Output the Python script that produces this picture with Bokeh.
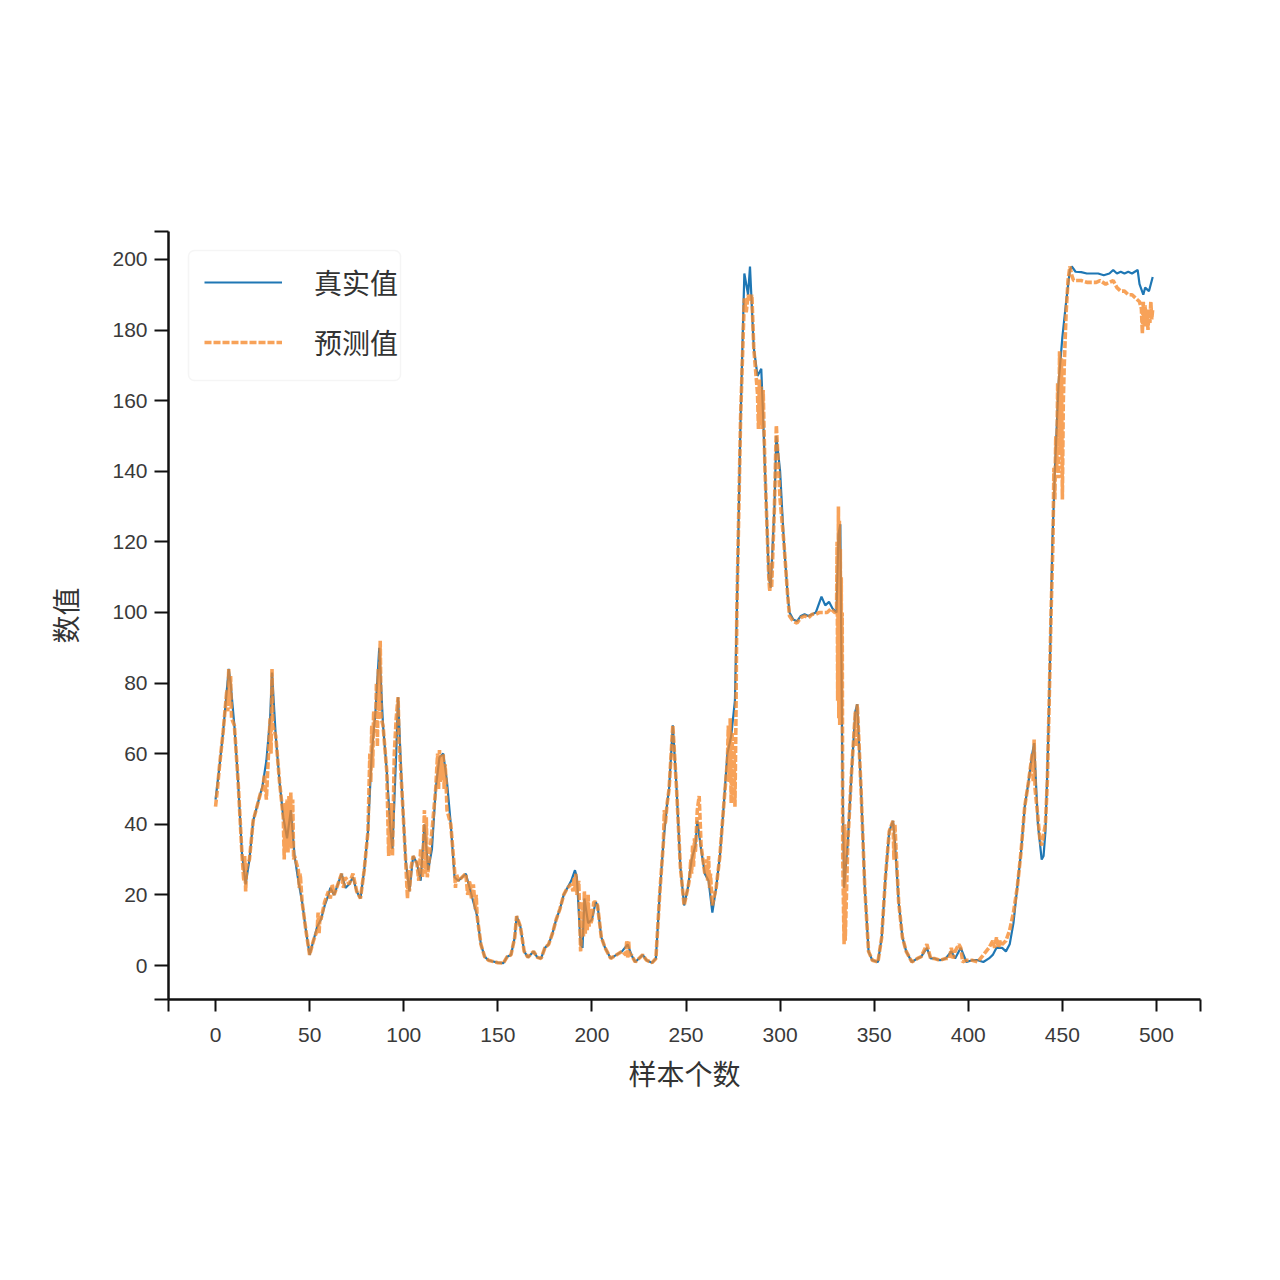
from bokeh.plotting import figure
from bokeh.embed import file_html
from bokeh.resources import INLINE
from bokeh.models import Range1d, FixedTicker, Legend, LegendItem, BoxAnnotation, Label

x_ticks = [-25, 0, 50, 100, 150, 200, 250, 300, 350, 400, 450, 500, 523.4]
y_ticks = [-9.63, 0, 20, 40, 60, 80, 100, 120, 140, 160, 180, 200, 207.9]
x_title = "样本个数"
y_title = "数值"
names = ["真实值", "预测值"]

true_x = [0,2,4,6,7,8,10,12,14,16,18,20,22,24,25,27,29,30,32,34,36,38,40,42,44,46,48,50,52,54,
          56,58,60,61,63,65,67,69,71,73,75,77,79,81,83,85,87,89,91,93,94,96,97,99,101,103,105,107,109,111,
          113,115,117,119,121,123,125,127,129,131,133,135,137,139,141,143,145,147,150,153,155,157,159,160,162,164,166,169,171,173,
          175,177,179,181,183,185,187,189,191,192,194,195,196,198,200,202,203,205,207,210,213,216,219,221,223,225,227,229,232,234,
          236,238,240,241,243,245,247,249,251,253,255,256,258,260,262,264,266,268,270,272,274,276,277,279,281,283,284,286,288,290,
          291,292,294,295,297,298,300,302,304,305,307,309,311,313,315,317,319,321,322,324,326,328,330,331,332,333,334,336,338,340,
          341,343,345,347,349,352,354,356,358,360,361,363,365,367,370,373,375,378,380,382,385,388,391,393,396,399,402,405,408,411,
          413,415,418,420,422,424,426,428,430,432,434,435,437,439,440,441,442,443,444.7,446,448,450,452,454,455,457,460,463,466,469,472,475,
          477,479,481,483,485,487,490,491,493,494,496,498]
true_y = [47,56,66,78,84,80,68,52,32,23,30,41,45,49,51,58,70,83,65,52,42,36,44,31,24,18,10,3,7,11,
          13,17,20,22,20,23,26,22,23,25,21,19,27,38,60,72,90,68,55,38,33,60,76,50,30,21,31,29,24,40,
          27,33,50,59,60,52,40,25,24,25,26,22,18,14,6,2.5,1.5,1.2,0.8,0.7,2.5,3,8,14,11,4,2.3,4,2.3,2,
          5,6,9,13,16,20,22,24,27,25,6,5,19,12,13,18,17,8,5,2,3,4,6,3,1,2,3,1.5,0.8,2,
          20,35,46,50,68,50,28,17,22,30,34,41,33,26,24,15,22,31,45,60,65,75,100,155,196,190,198,175,167,169,
          155,140,110,107,130,150,140,120,105,100,98,97.5,99,99.5,99,99.5,100,103,104.5,102,103,101,100,122,125,60,22,35,55,72,
          74,50,22,4,1.5,1,8,25,38,41,35,18,8,4,1,2,2.5,5,2,2,1.5,2,4,2,5,1,1.5,1.5,1,2,
          3,5,5,4,6,12,22,32,45,52,60,63,40,30,31,38,55,75,120,140,165,178,188,197,198,196.5,196.4,196,196,196,195.5,196,
          197,196,196.5,196,196.5,196,197,193,190,192,191,195]

pred_x = [0,1,2,4,6,6.5,7,7.5,8,8.5,
          10,12,14,15,15.5,16,16.5,18,20,22,
          24,25,26,27,29,29.5,30,30.5,32,34,
          36,36.5,37,37.5,38,38.5,39,39.5,40,40.5,
          41,41.5,42,44,44.5,45,46,48,50,52,
          54,54.5,55,55.5,56,58,60,61,62,63,
          65,67,68,69,71,73,75,77,79,81,
          82,82.5,83,83.5,84,85,85.5,86,86.5,87,
          87.5,88,89,91,92,92.5,93,93.5,94,95,
          96,97,97.5,99,101,102,102.5,103,104,105,
          107,108,109,110,111,111.5,112,112.5,113,114,
          115,117,118,118.5,119,119.5,120,120.5,121,121.5,
          122,122.5,123,125,127,127.5,128,129,131,133,
          134,135,136,137,138,138.5,139,141,143,145,
          147,150,153,155,157,159,160,162,164,166,
          169,171,173,175,177,179,181,183,185,187,
          189,190,190.5,191,191.5,192,193,194,195,195.5,
          196,196.5,197,197.5,198,198.5,199,199.5,200,201,
          202,203,205,207,210,213,216,218,218.5,219,
          219.5,220,221,223,225,227,229,232,234,236,
          238,238.5,239,240,241,243,245,247,249,251,
          252,252.5,253,253.5,254,254.5,255,256,257,258,
          260,261,261.5,262,262.5,263,264,266,268,270,
          272,272.5,273,273.5,274,274.5,275,275.5,276,276.5,
          277,279,281,282,283,284,285,286,288,288.5,
          289,289.5,290,290.5,291,291.5,292,294,294.5,295,
          295.5,297,298,300,302,304,305,307,309,311,
          313,315,317,319,321,323,325,327,329,330,
          330.3,330.6,331,331.2,331.5,331.7,332,332.2,332.5,332.7,
          333,333.3,334,334.3,334.6,336,338,340,340.5,341,
          343,345,347,349,352,354,356,358,360,360.5,
          361,361.5,363,365,367,370,373,375,378,380,
          382,385,388,390,391,392,393,395,396,397,
          399,402,405,408,411,413,414,415,416,417,
          418,420,422,424,426,428,430,432,434,434.5,
          435,435.5,437,438,439,440,441,442,443,444,
          445,445.5,446,446.5,447,447.5,448,448.5,449,449.5,
          450,450.5,451,452,453,454,455,456,458,460,
          463,466,468,470,473,475,477,479,481,483,
          485,487,489,491,492,492.5,493,493.5,494,494.5,
          495,495.5,496,496.5,497,497.5,498]
pred_y = [45,50,56,66,78,72,84,74,82,70,
          68,52,32,24,31,21,28,30,41,45,
          49,50,54,47,70,60,84,68,65,52,
          42,30,46,33,47,32,48,34,49,33,
          47,30,31,27,22,26,18,10,3,7,
          10,15,9,14,13,18,21,19,23,20,
          23,26,22,25,23,26,21,19,27,38,
          60,52,68,56,72,66,80,62,84,72,
          92,70,68,55,31,42,33,46,31,60,
          70,76,64,50,30,19,27,21,28,31,
          29,24,33,25,44,26,42,25,27,33,
          38,50,60,50,61,52,59,53,60,50,
          57,52,44,40,27,22,26,24,25,26,
          20,24,19,23,16,20,14,6,2.5,1.5,
          1.2,0.8,0.7,2.5,3,8,14,11,4,2.3,
          4,2.3,2,5,6,9,13,16,20,22,
          23,21,25,22,26,20,24,4,18,8,
          21,9,19,10,20,11,16,12,13,18,
          18,17,8,5,2,3,4,3,7,2,
          7,3,3,1,2,3,1.5,0.8,2,20,
          35,44,40,46,50,68,50,28,17,22,
          25,30,26,34,28,36,32,44,48,34,
          26,30,24,31,22,26,17,22,31,45,
          58,68,52,70,46,66,48,62,45,68,
          100,155,189,185,190,188,190,175,162,152,
          166,153,164,152,163,151,140,110,106,114,
          107,130,153,132,120,105,99,97.5,97,98.5,
          99,98.5,99.5,99.5,100,100,100,101,100,100,
          120,75,130,70,126,68,118,70,110,69,
          100,30,6,40,7,35,55,72,62,74,
          50,22,4,1.5,1,8,25,38,41,30,
          40,34,18,8,4,1,2,2.5,6,2,
          2,1.5,2,2,5,2,4,6,5,1,
          1.5,1.5,1,3,5,7,5,8,5,7,
          6,7,10,15,22,32,45,52,60,52,
          64,50,42,36,34,37,40,52,75,100,
          120,141,132,150,140,165,138,174,145,172,
          132,160,170,185,194,198,195.5,194,194,194,
          193.5,193.5,193.5,194,193,193.5,194,192,191,191,
          190,190,189,188,186,179,188,181,187,181,
          185,180,186,182,188,183,186]

W, H = 1272, 1272
p = figure(width=W, height=H, output_backend="svg", toolbar_location=None,
           x_range=Range1d(-25, 523.4), y_range=Range1d(-9.63, 207.9),
           min_border_left=168, min_border_right=72, min_border_top=231, min_border_bottom=273)
p.outline_line_color = None
p.grid.visible = False
p.background_fill_color = "white"

r1 = p.line(true_x, true_y, line_color="#1f77b4", line_width=2.2)
r2 = p.line(pred_x, pred_y, line_color="#f5882a", line_width=3.6, line_dash="7 2", line_alpha=0.78)

for ax, ticks in ((p.xaxis[0], x_ticks), (p.yaxis[0], y_ticks)):
    ax.ticker = FixedTicker(ticks=ticks)
    ax.major_label_overrides = {ticks[0]: "", ticks[-1]: ""}
    ax.axis_line_color = "#111111"
    ax.axis_line_width = 2.5
    ax.major_tick_line_color = "#111111"
    ax.major_tick_line_width = 2
    ax.major_tick_in = 0
    ax.minor_tick_line_color = None
    ax.major_label_text_font = "Liberation Sans"
    ax.major_label_text_font_size = "21px"
    ax.major_label_text_color = "#3a3a3a"
    ax.axis_label_text_font = "Noto Sans CJK SC"
    ax.axis_label_text_font_size = "28px"
    ax.axis_label_text_font_style = "normal"
    ax.axis_label_text_color = "#333333"
p.xaxis[0].major_tick_out = 12
p.yaxis[0].major_tick_out = 14
p.xaxis[0].major_label_standoff = 16
p.yaxis[0].major_label_standoff = 7
p.xaxis[0].axis_label = x_title
p.yaxis[0].axis_label = y_title
p.xaxis[0].axis_label_standoff = 8
p.yaxis[0].axis_label_standoff = 24

# rounded legend frame, placed in canvas pixels
p.add_layout(BoxAnnotation(left=188, right=400, top=250, bottom=380,
                           left_units="canvas", right_units="canvas",
                           top_units="canvas", bottom_units="canvas",
                           fill_color="white", fill_alpha=1,
                           line_color="#dddddd", line_width=1.5, border_radius=6))

legend = Legend(items=[LegendItem(label=names[0], renderers=[r1]),
                       LegendItem(label=names[1], renderers=[r2])],
                location=(20, 621), orientation="vertical",
                glyph_width=78, glyph_height=30, label_standoff=32, spacing=20,
                padding=16, margin=0,
                label_text_font="Noto Sans CJK SC", label_text_font_size="28px",
                label_text_color="#333333", label_height=30,
                background_fill_alpha=0, border_line_alpha=0)
p.add_layout(legend, "center")

# the faint home / pan / zoom toolbar icons of the original screenshot
FX, FY = 168, 999
for ch, cx, cy, size, angle in (("⌂", 22, 1085, 36, 0.0),
                                ("✥", 58, 1085, 32, 0.0),
                                ("⚲", 94, 1085, 36, -0.785)):
    p.add_layout(Label(x=cx - FX, y=FY - cy, x_units="screen", y_units="screen", text=ch,
                       text_font="DejaVu Sans", text_font_size=f"{size}px",
                       text_color="#c4c4c4", text_align="center", text_baseline="middle",
                       angle=angle))

open("out.html", "w").write(file_html(p, INLINE))
